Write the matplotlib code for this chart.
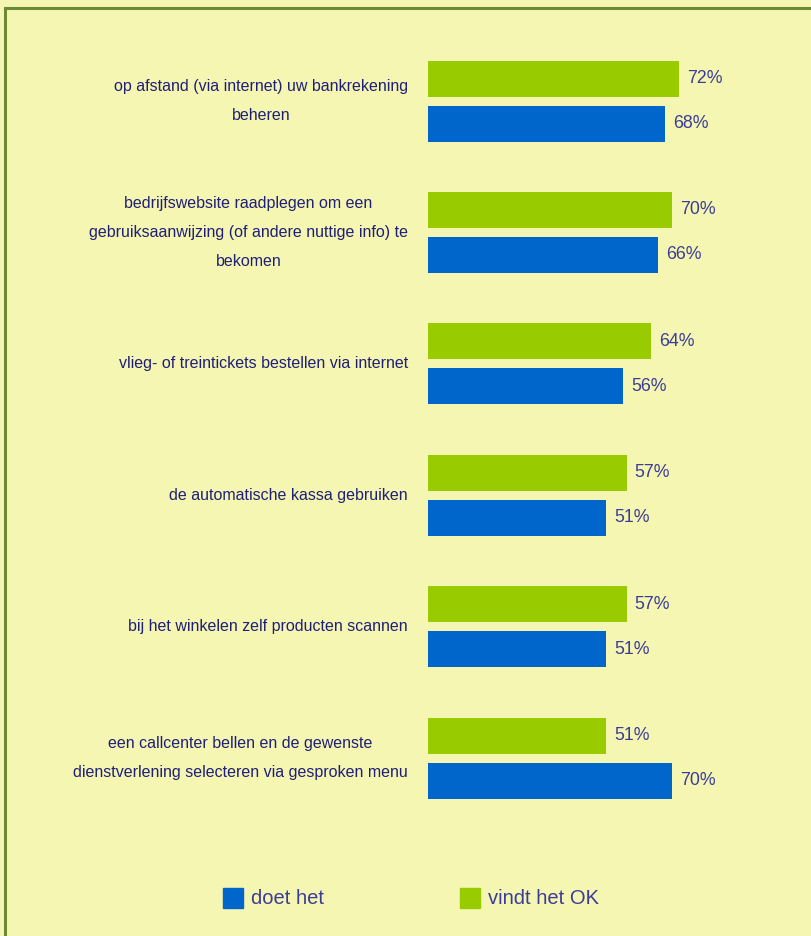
import matplotlib.pyplot as plt
from matplotlib.lines import Line2D
from matplotlib.patches import Rectangle
import numpy as np

categories = [
    "op afstand (via internet) uw bankrekening\nbeheren",
    "bedrijfswebsite raadplegen om een\ngebruiksaanwijzing (of andere nuttige info) te\nbekomen",
    "vlieg- of treintickets bestellen via internet",
    "de automatische kassa gebruiken",
    "bij het winkelen zelf producten scannen",
    "een callcenter bellen en de gewenste\ndienstverlening selecteren via gesproken menu",
]
vindt_ok = [72, 70, 64, 57, 57, 51]
doet_het = [68, 66, 56, 51, 51, 70]
series_names = ["doet het", "vindt het OK"]

BG = "#f6f6b3"
GREEN = "#99cc00"
BLUE = "#0066cc"
LABEL_COLOR = "#1f1f78"
VALUE_COLOR = "#3c3c98"
FONT = ["Liberation Sans Narrow", "Liberation Sans", "DejaVu Sans"]

W, H = 811, 936
fig = plt.figure(figsize=(W / 100, H / 100), dpi=100, facecolor=BG)
ax = fig.add_axes([0, 0, 1, 1])
ax.set_facecolor(BG)

# pixel-based scales: bars start at x=428, ~3.486 px per percent
px_per_pct = 3.486
x0 = 428
ax.set_xlim(-x0 / px_per_pct, (W - x0) / px_per_pct)
group_px = 131.4
first_center = 101
ax.set_ylim((H - first_center) / group_px, -first_center / group_px)
ax.axis("off")

y = np.arange(len(categories))
bar_h = 36 / group_px
off = 22.5 / group_px

ax.barh(y - off, vindt_ok, height=bar_h, color=GREEN)
ax.barh(y + off, doet_het, height=bar_h, color=BLUE)

for yi, v in zip(y - off, vindt_ok):
    ax.text(v + 2.3, yi, f"{v}%", va="center", ha="left", fontsize=12.8,
            color=VALUE_COLOR, family=FONT)
for yi, v in zip(y + off, doet_het):
    ax.text(v + 2.3, yi, f"{v}%", va="center", ha="left", fontsize=12.8,
            color=VALUE_COLOR, family=FONT)

label_x = -20 / px_per_pct
for yi, lab in zip(y, categories):
    ax.text(label_x, yi, lab, ha="right", va="center", multialignment="center",
            fontsize=11.5, color=LABEL_COLOR, family=FONT, linespacing=2.15)

# frame lines along top and left edges
fig.add_artist(Line2D([5 / W, 1], [1 - 7.5 / H] * 2, transform=fig.transFigure,
                      color="#6a8a35", lw=2.2))
fig.add_artist(Line2D([5 / W] * 2, [0, 1 - 7.5 / H], transform=fig.transFigure,
                      color="#6a8a35", lw=2.2))

# legend: colour squares with labels along the bottom
legend_y = 898
for sq_x, color, name in zip([223, 460], [BLUE, GREEN], series_names):
    fig.add_artist(Rectangle((sq_x / W, 1 - (legend_y + 10) / H), 20 / W, 20 / H,
                             transform=fig.transFigure, color=color))
    fig.text((sq_x + 28) / W, 1 - legend_y / H, name, ha="left", va="center",
             fontsize=14.5, color=VALUE_COLOR, family=FONT)

fig.savefig("out.png", dpi=100, facecolor=BG)
